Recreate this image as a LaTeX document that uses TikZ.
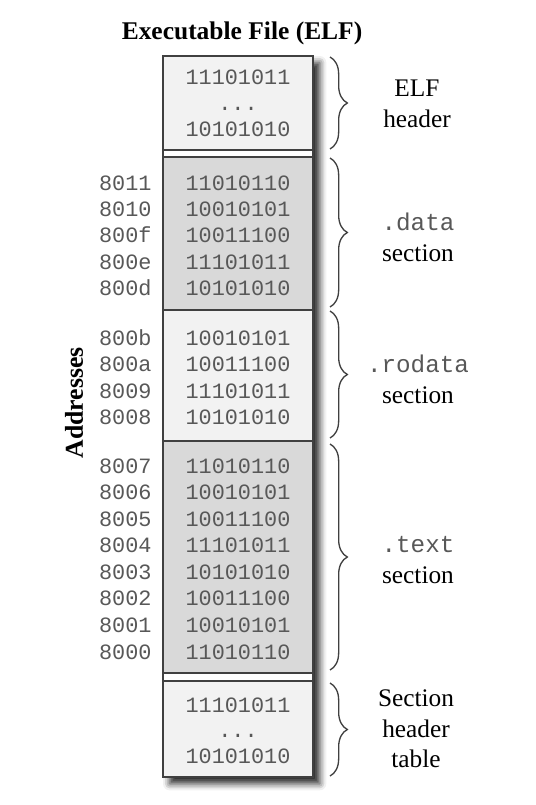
\documentclass[tikz,border=0pt]{standalone}
\usepackage{fontspec}
\setmainfont{Liberation Serif}
\setmonofont{Liberation Mono}
\usetikzlibrary{decorations.pathreplacing,shadows.blur}

\definecolor{lightsec}{RGB}{242,242,242}
\definecolor{darksec}{RGB}{217,217,217}
\definecolor{edgegray}{RGB}{64,64,64}
\definecolor{bitgray}{RGB}{88,88,88}

\newcommand{\secname}[1]{{\fontsize{18.2}{23}\ttfamily\color{bitgray}#1}}

\tikzset{every picture/.style={line width=0.75pt}}
\tikzset{
	bitrow/.style={font=\fontsize{16.4}{18}\ttfamily, text=bitgray, anchor=base, inner sep=0pt},
	addrrow/.style={font=\fontsize{16.4}{18}\ttfamily, text=bitgray, anchor=base east, inner sep=0pt},
	seclabel/.style={font=\fontsize{19}{23}\selectfont, align=center},
	secbox/.style={draw=edgegray, line width=1.1pt},
	secbrace/.style={draw=edgegray, line width=1pt, decorate, decoration={brace, amplitude=13pt}}}

\begin{document}
\begin{tikzpicture}[x=0.75pt,y=0.75pt,yscale=-1,xscale=1]
	\useasboundingbox (0,0) rectangle (535,805);

	%Shape: Column with shadow
	\path [fill=white, blur shadow={shadow xshift=5pt, shadow yshift=-5pt, shadow blur radius=5pt, shadow opacity=85}] (163,56) rectangle (313,777);
	%Shape: Rectangle -- ELF header
	\draw [secbox, fill=lightsec] (163,56) rectangle (313,150);
	\draw [secbox, fill=white] (163,150) rectangle (313,157);
	%Shape: Rectangle -- .data
	\draw [secbox, fill=darksec] (163,157) rectangle (313,310);
	%Shape: Rectangle -- .rodata
	\draw [secbox, fill=lightsec] (163,310) rectangle (313,441);
	%Shape: Rectangle -- .text
	\draw [secbox, fill=darksec] (163,441) rectangle (313,673);
	\draw [secbox, fill=white] (163,673) rectangle (313,681);
	%Shape: Rectangle -- section header table
	\draw [secbox, fill=lightsec] (163,681) rectangle (313,777);

	% Text Node -- title and axis
	\node (title) [font=\fontsize{19.1}{21}\bfseries] at (242,33) {Executable File (ELF)};
	\node (addrlabel) [font=\fontsize{19.3}{21}\bfseries, rotate=90] at (74,403) {Addresses};

	% Text Node -- ELF header bytes
	\node (h1) [bitrow] at (238,85) {11101011};
	\node (h2) [bitrow] at (238,111) {...};
	\node (h3) [bitrow] at (238,137) {10101010};

	% Text Node -- .data bytes
	\node (d1) [bitrow] at (238,191) {11010110};
	\node (d2) [bitrow] at (238,217) {10010101};
	\node (d3) [bitrow] at (238,243) {10011100};
	\node (d4) [bitrow] at (238,269) {11101011};
	\node (d5) [bitrow] at (238,295) {10101010};
	\node (ad1) [addrrow] at (152,191) {8011};
	\node (ad2) [addrrow] at (152,217) {8010};
	\node (ad3) [addrrow] at (152,243) {800f};
	\node (ad4) [addrrow] at (152,269) {800e};
	\node (ad5) [addrrow] at (152,295) {800d};

	% Text Node -- .rodata bytes
	\node (r1) [bitrow] at (238,345) {10010101};
	\node (r2) [bitrow] at (238,371.5) {10011100};
	\node (r3) [bitrow] at (238,398) {11101011};
	\node (r4) [bitrow] at (238,424.5) {10101010};
	\node (ar1) [addrrow] at (152,345) {800b};
	\node (ar2) [addrrow] at (152,371.5) {800a};
	\node (ar3) [addrrow] at (152,398) {8009};
	\node (ar4) [addrrow] at (152,424.5) {8008};

	% Text Node -- .text bytes
	\node (t1) [bitrow] at (238,473) {11010110};
	\node (t2) [bitrow] at (238,499.6) {10010101};
	\node (t3) [bitrow] at (238,526.1) {10011100};
	\node (t4) [bitrow] at (238,552.7) {11101011};
	\node (t5) [bitrow] at (238,579.3) {10101010};
	\node (t6) [bitrow] at (238,605.9) {10011100};
	\node (t7) [bitrow] at (238,632.4) {10010101};
	\node (t8) [bitrow] at (238,659) {11010110};
	\node (at1) [addrrow] at (152,473) {8007};
	\node (at2) [addrrow] at (152,499.6) {8006};
	\node (at3) [addrrow] at (152,526.1) {8005};
	\node (at4) [addrrow] at (152,552.7) {8004};
	\node (at5) [addrrow] at (152,579.3) {8003};
	\node (at6) [addrrow] at (152,605.9) {8002};
	\node (at7) [addrrow] at (152,632.4) {8001};
	\node (at8) [addrrow] at (152,659) {8000};

	% Text Node -- section header table bytes
	\node (s1) [bitrow] at (238,712) {11101011};
	\node (s2) [bitrow] at (238,737.5) {...};
	\node (s3) [bitrow] at (238,763) {10101010};

	%Shape: Braces
	\draw [secbrace] (330,57) -- (330,149);
	\draw [secbrace] (330,158) -- (330,307);
	\draw [secbrace] (330,311) -- (330,438);
	\draw [secbrace] (330,444) -- (330,670);
	\draw [secbrace] (330,683) -- (330,776);

	% Text Node -- section names
	\node (elfname) [seclabel] at (417,104) {ELF\\header};
	\node (dataname) [seclabel] at (418,237) {\secname{.data}\\section};
	\node (rodataname) [seclabel] at (418,379) {\secname{.rodata}\\section};
	\node (textname) [seclabel] at (418,560) {\secname{.text}\\section};
	\node (shtname) [seclabel] at (416,729) {Section\\header\\table};

\end{tikzpicture}
\end{document}
